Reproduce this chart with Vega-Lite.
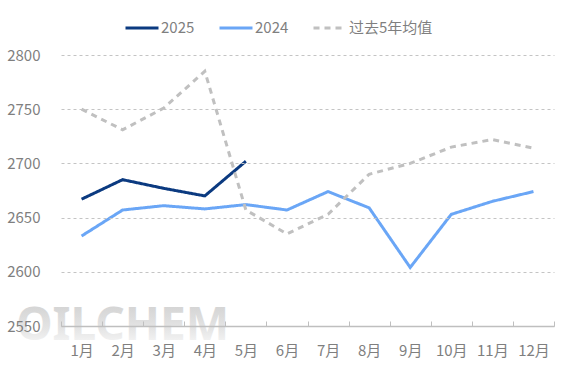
{
  "$schema": "https://vega.github.io/schema/vega-lite/v6.json",
  "width": 493,
  "height": 271,
  "autosize": {"type": "none"},
  "padding": {"left": 61, "top": 55, "right": 14, "bottom": 52},
  "background": "white",
  "config": {
    "view": {"stroke": null},
    "font": "Noto Sans CJK SC"
  },
  "data": {
    "values": [
      {"month": "1月", "series": "2025", "value": 2667},
      {"month": "2月", "series": "2025", "value": 2685},
      {"month": "3月", "series": "2025", "value": 2677},
      {"month": "4月", "series": "2025", "value": 2670},
      {"month": "5月", "series": "2025", "value": 2702},
      {"month": "1月", "series": "2024", "value": 2633},
      {"month": "2月", "series": "2024", "value": 2657},
      {"month": "3月", "series": "2024", "value": 2661},
      {"month": "4月", "series": "2024", "value": 2658},
      {"month": "5月", "series": "2024", "value": 2662},
      {"month": "6月", "series": "2024", "value": 2657},
      {"month": "7月", "series": "2024", "value": 2674},
      {"month": "8月", "series": "2024", "value": 2659},
      {"month": "9月", "series": "2024", "value": 2604},
      {"month": "10月", "series": "2024", "value": 2653},
      {"month": "11月", "series": "2024", "value": 2665},
      {"month": "12月", "series": "2024", "value": 2674},
      {"month": "1月", "series": "过去5年均值", "value": 2750},
      {"month": "2月", "series": "过去5年均值", "value": 2731},
      {"month": "3月", "series": "过去5年均值", "value": 2751},
      {"month": "4月", "series": "过去5年均值", "value": 2785},
      {"month": "5月", "series": "过去5年均值", "value": 2657},
      {"month": "6月", "series": "过去5年均值", "value": 2635},
      {"month": "7月", "series": "过去5年均值", "value": 2653},
      {"month": "8月", "series": "过去5年均值", "value": 2690},
      {"month": "9月", "series": "过去5年均值", "value": 2700},
      {"month": "10月", "series": "过去5年均值", "value": 2715},
      {"month": "11月", "series": "过去5年均值", "value": 2722},
      {"month": "12月", "series": "过去5年均值", "value": 2714}
    ]
  },
  "layer": [
    {
      "data": {"values": [{"t": "OILCHEM"}]},
      "mark": {
        "type": "text", "fontSize": 46, "fontWeight": "bold", "baseline": "middle", "align": "center", "font": "Noto Sans",
        "color": {"gradient": "linear", "x1": 0, "y1": 0, "x2": 0, "y2": 1, "stops": [{"offset": 0, "color": "#cacaca"}, {"offset": 0.6, "color": "#e4e4e4"}, {"offset": 1, "color": "#ffffff"}]}
      },
      "encoding": {
        "x": {"datum": "2月", "type": "ordinal"},
        "y": {"datum": 2550, "type": "quantitative"},
        "text": {"field": "t"}
      }
    },
    {
      "mark": {"type": "line", "interpolate": "linear"},
      "encoding": {
        "x": {
          "field": "month", "type": "ordinal",
          "sort": ["1月","2月","3月","4月","5月","6月","7月","8月","9月","10月","11月","12月"],
          "scale": {"type": "band", "paddingInner": 0, "paddingOuter": 0},
          "axis": {
            "title": null, "labelAngle": 0, "labelAlign": "center", "labelBaseline": "top",
            "labelColor": "#7f7f7f", "labelFontSize": 15, "zindex": 1,
            "labelPadding": 22, "domainColor": "#bfbfbf", "domainWidth": 1.5,
            "tickColor": "#bfbfbf", "tickSize": -5, "tickBand": "extent", "tickWidth": 1,
            "grid": false, "labelFont": "Noto Sans CJK SC"
          }
        },
        "y": {
          "field": "value", "type": "quantitative",
          "scale": {"domain": [2550, 2800], "nice": false, "zero": false},
          "axis": {
            "title": null, "values": [2550, 2600, 2650, 2700, 2750, 2800], "format": "d",
            "labelColor": "#7f7f7f", "labelFontSize": 15, "labelPadding": 21, "zindex": 1,
            "domain": false, "ticks": false,
            "grid": true, "gridColor": "#c4c4c4", "gridDash": [3, 3], "gridWidth": 1,
            "labelFont": "Noto Sans CJK SC"
          }
        },
        "color": {
          "field": "series", "type": "nominal",
          "scale": {"domain": ["2025", "2024", "过去5年均值"], "range": ["#0b3a80", "#6aa6f6", "#c0c0c0"]},
          "legend": {
            "title": null, "orient": "none", "direction": "horizontal",
            "legendX": 63, "legendY": -45,
            "symbolType": "stroke", "symbolSize": 1089, "symbolStrokeWidth": 3,
            "labelColor": "#7f7f7f", "labelFontSize": 15, "labelOffset": 1,
            "columnPadding": 18, "labelFont": "Noto Sans CJK SC"
          }
        },
        "strokeDash": {
          "field": "series", "type": "nominal",
          "scale": {"domain": ["2025", "2024", "过去5年均值"], "range": [[1, 0], [1, 0], [6, 5]]},
          "legend": null
        },
        "strokeWidth": {
          "field": "series", "type": "nominal",
          "scale": {"domain": ["2025", "2024", "过去5年均值"], "range": [3, 3, 2]},
          "legend": null
        }
      }
    }
  ]
}
